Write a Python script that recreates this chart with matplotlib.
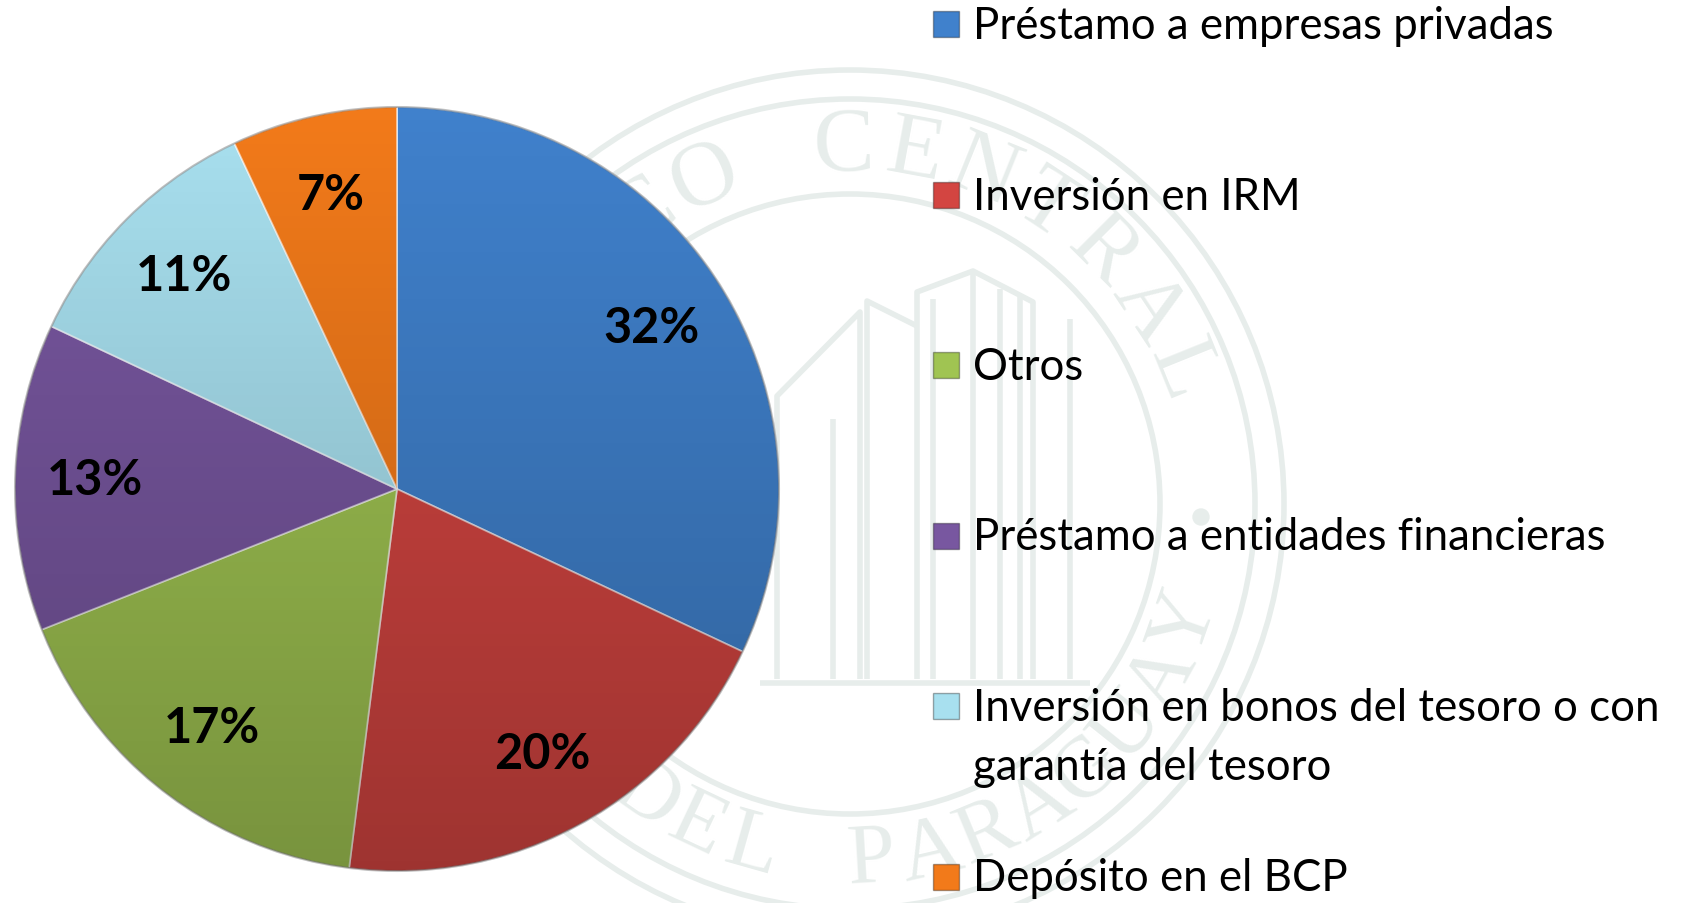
import numpy as np
import matplotlib
matplotlib.use("Agg")
import matplotlib.pyplot as plt
from matplotlib.patches import Circle, Rectangle

plt.rcParams['font.family'] = ['Lato', 'DejaVu Sans']

# data
labels = ['Préstamo a empresas privadas',
          'Inversión en IRM',
          'Otros',
          'Préstamo a entidades financieras',
          'Inversión en bonos del tesoro o con\ngarantía del tesoro',
          'Depósito en el BCP']
shares = [32, 20, 17, 13, 11, 7]
colors = ['#4081cc', '#d34541', '#a0c452', '#7857a0', '#a8e0ef', '#f27a1a']
seal_top = 'BANCO CENTRAL'
seal_bottom = 'DEL PARAGUAY'

W, H = 1682, 904
fig = plt.figure(figsize=(W / 100, H / 100), dpi=100)
fig.patch.set_facecolor('white')

# background axes in pixel coords (watermark + legend)
bg = fig.add_axes([0, 0, 1, 1])
bg.set_xlim(0, W)
bg.set_ylim(H, 0)
bg.axis('off')

# faint seal watermark
wm = '#e7edeb'
cx, cy = 850, 505
for r in [434, 405, 310]:
    bg.add_patch(Circle((cx, cy), r, fill=False, ec=wm, lw=4, zorder=0.5))
bg.add_patch(Circle((1201, 518), 8, color=wm, zorder=0.5))
rt = 357
for i, ch in enumerate(seal_top):
    a = np.radians(160 - i * 11.5)
    bg.text(cx + rt * np.cos(a), cy - rt * np.sin(a), ch, family='Liberation Serif',
            fontsize=66, color=wm, ha='center', va='center',
            rotation=np.degrees(a) - 90, zorder=0.5)
for i, ch in enumerate(seal_bottom):
    a = np.radians(235 + i * 9.6)
    bg.text(cx + rt * np.cos(a), cy - rt * np.sin(a), ch, family='Liberation Serif',
            fontsize=62, color=wm, ha='center', va='center',
            rotation=np.degrees(a) + 90, zorder=0.5)

# building outline inside the seal
building = [
    [(777, 680), (777, 397), (860, 313), (860, 680)],
    [(833, 680), (833, 420)],
    [(867, 680), (867, 302), (917, 327)],
    [(917, 680), (917, 293), (973, 272), (1033, 303), (1033, 680)],
    [(933, 680), (933, 300)],
    [(973, 680), (973, 272)],
    [(1000, 680), (1000, 290)],
    [(1020, 680), (1020, 297)],
    [(1070, 680), (1070, 320)],
    [(760, 684), (1090, 684)],
]
for pts in building:
    xs, ys = zip(*pts)
    bg.plot(xs, ys, color=wm, lw=4, zorder=0.5, solid_capstyle='butt')

# legend, drawn by hand
for k, (lab, col) in enumerate(zip(labels, colors)):
    yc = 25 + k * 170.5
    bg.add_patch(Rectangle((933, yc - 13), 26, 26, fc=col, ec='#00000055', lw=1,
                           zorder=4))
    for j, line in enumerate(lab.split('\n')):
        bg.text(973, yc + 14 + j * 59, line, fontsize=31.5, color='black',
                ha='left', va='baseline', zorder=4)

# pie axes: centre (397, 490) px, radius 382 px
pcx, pcy, half = 397, 490, 400
ax = fig.add_axes([(pcx - half) / W, (H - pcy - half) / H, 2 * half / W, 2 * half / H])
ax.set_xlim(-1, 1)
ax.set_ylim(-1, 1)
ax.axis('off')
R = 382 / half

wedges, texts, autotexts = ax.pie(
    shares, colors=colors, radius=R, startangle=90, counterclock=False,
    autopct='%1.0f%%', pctdistance=0.79,
    wedgeprops=dict(edgecolor='#ffffff99', linewidth=1.3),
    textprops=dict(fontsize=35, fontweight='bold', color='black'))

# vertical shading, darker towards the bottom
grad = np.zeros((256, 2, 4))
grad[:, :, 3] = np.linspace(0, 0.25, 256)[:, None]
shade = ax.imshow(grad, extent=[-R, R, -R, R], origin='upper', zorder=1.5,
                  aspect='auto', interpolation='bilinear')
shade.set_clip_path(Circle((0, 0), R, transform=ax.transData))
ax.add_patch(Circle((0, 0), R, fill=False, ec='#00000040', lw=1.5, zorder=1.6))
for t in autotexts:
    t.set_zorder(3)
ax.set_xlim(-1, 1)
ax.set_ylim(-1, 1)

fig.savefig('out.png', dpi=100, facecolor='white')
